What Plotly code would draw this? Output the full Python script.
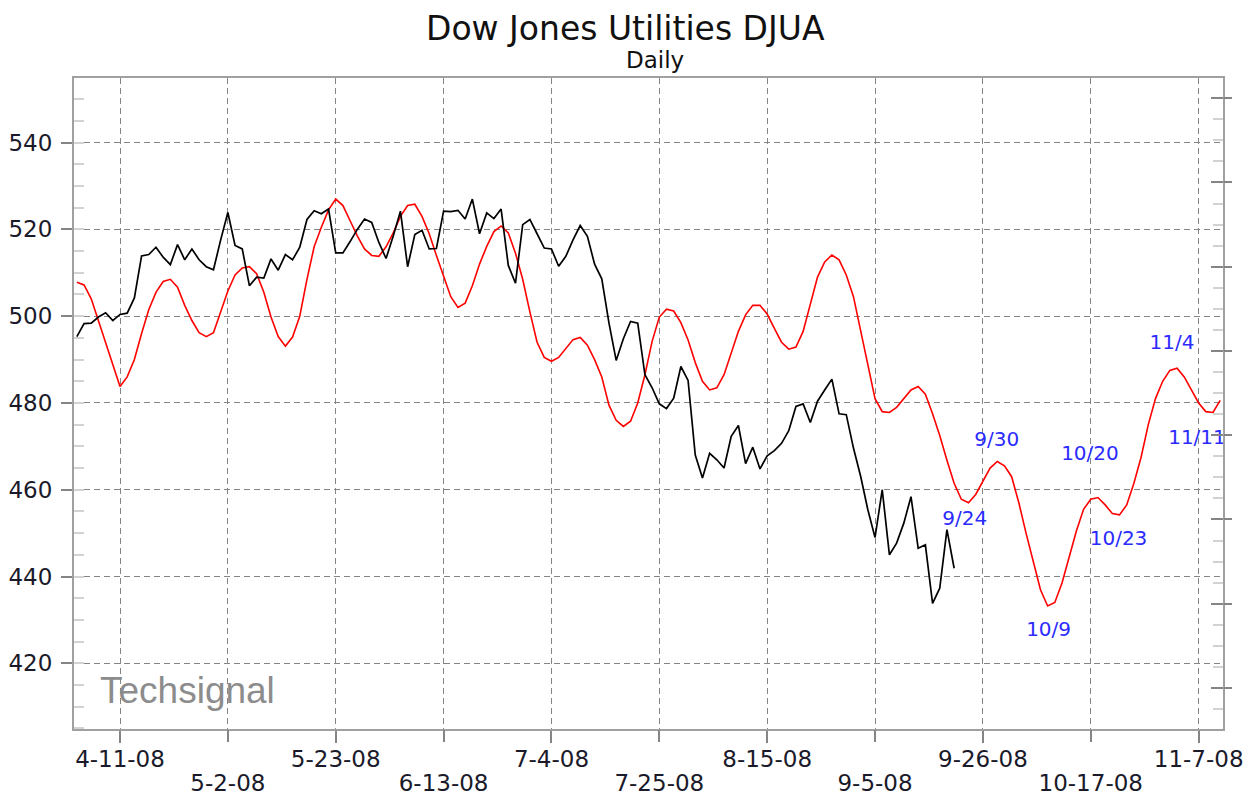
import numpy as np
import pandas as pd
import plotly.graph_objects as go

# ---------------- data ----------------
black_start = "2008-04-03"
black_values = [
    495.3, 498.3, 498.4, 499.8, 500.8, 499.0, 500.4, 500.7, 504.2, 513.9,
    514.2, 515.9, 513.6, 511.9, 516.5, 513.0, 515.5, 513.0, 511.4, 510.7,
    517.6, 523.9, 516.3, 515.5, 507.0, 509.0, 508.8, 513.2, 510.6, 514.2,
    513.0, 515.9, 522.3, 524.3, 523.6, 524.7, 514.6, 514.6, 517.2, 520.0,
    522.4, 521.6, 517.0, 513.3, 518.5, 524.2, 511.4, 518.8, 519.8, 515.5,
    515.6, 524.2, 524.1, 524.4, 522.4, 527.0, 519.0, 523.8, 522.5, 524.7,
    511.7, 507.6, 521.1, 522.3, 519.0, 515.7, 515.5, 511.5, 513.8, 517.6,
    520.9, 518.4, 512.0, 508.6, 498.4, 489.8, 494.8, 498.8, 498.4, 486.5,
    483.5, 479.8, 478.7, 481.1, 488.4, 485.2, 468.0, 462.7, 468.4, 466.9,
    465.0, 472.3, 474.8, 466.0, 469.8, 464.8, 467.8, 469.0, 470.7, 473.6,
    479.2, 479.8, 475.5, 480.4, 483.0, 485.5, 477.5, 477.3, 469.6, 463.1,
    455.4, 449.0, 460.0, 445.0, 447.7, 452.3, 458.4, 446.5, 447.3, 433.8,
    437.3, 450.8, 441.9,
]

red_start = "2008-04-03"
red_values = [
    507.8, 507.2, 504.0, 499.0, 494.0, 488.5, 483.8, 486.0, 490.0, 496.0,
    501.5, 505.5, 508.0, 508.5, 506.7, 502.5, 499.0, 496.2, 495.3, 496.2,
    500.8, 505.8, 509.5, 511.1, 511.4, 509.8, 505.5, 499.8, 495.3, 493.1,
    495.2, 500.0, 508.5, 516.0, 520.5, 524.5, 527.0, 525.5, 522.0, 518.5,
    515.5, 514.0, 513.8, 516.0, 519.2, 523.0, 525.5, 525.8, 523.0, 519.0,
    514.0, 509.2, 504.5, 502.0, 503.0, 507.0, 512.0, 516.1, 519.5, 520.8,
    519.2, 514.5, 508.5, 501.0, 494.0, 490.5, 489.6, 490.5, 492.5, 494.6,
    495.1, 493.3, 490.0, 486.0, 479.5, 476.0, 474.6, 475.8, 480.0, 486.5,
    494.2, 499.8, 501.6, 501.2, 498.5, 494.5, 489.3, 485.0, 483.0, 483.5,
    486.5, 491.5, 496.5, 500.3, 502.5, 502.5, 500.5, 497.2, 494.0, 492.4,
    492.9, 496.5, 502.5, 509.0, 512.5, 514.1, 513.0, 509.5, 504.5, 496.5,
    488.5, 481.0, 478.0, 477.8, 479.0, 481.0, 483.0, 483.8, 482.0, 477.5,
    472.5, 466.8, 461.5, 457.8, 457.0, 458.9, 462.0, 465.0, 466.5, 465.5,
    463.0, 457.0, 450.0, 443.5, 437.0, 433.2, 434.0, 438.5, 444.5, 450.5,
    455.5, 457.8, 458.2, 456.5, 454.5, 454.2, 456.5, 461.5, 467.5, 475.0,
    481.0, 485.0, 487.5, 488.0, 486.0, 483.0, 480.0, 478.0, 477.8, 480.6,
]

tick_dates = ["2008-04-11", "2008-05-02", "2008-05-23", "2008-06-13", "2008-07-04",
              "2008-07-25", "2008-08-15", "2008-09-05", "2008-09-26", "2008-10-17",
              "2008-11-07"]
tick_labels = ["4-11-08", "5-2-08", "5-23-08", "6-13-08", "7-4-08", "7-25-08",
               "8-15-08", "9-5-08", "9-26-08", "10-17-08", "11-7-08"]

y_tick_values = [420, 440, 460, 480, 500, 520, 540]

label_texts = ["9/24", "9/30", "10/9", "10/20", "10/23", "11/4", "11/11"]
label_dates = ["2008-09-24", "2008-09-30", "2008-10-09", "2008-10-20",
               "2008-10-23", "2008-11-04", "2008-11-11"]

# ---------------- styling / layout constants ----------------
BODY = 8                      # default page margin around the plot div
W, H = 1260 - BODY, 798 - BODY
# target plot area in screenshot pixels
P_L, P_R, P_T, P_B = 74, 1223, 78, 729
ML, MR, MT, MB = P_L - BODY, W - (P_R - BODY), P_T - BODY, H - (P_B - BODY)
PLOT_W = P_R - P_L
PLOT_H = P_B - P_T
X_RANGE = ["2008-04-02 14:28", "2008-11-12 09:22"]
Y_RANGE = [404.85, 554.9]
Y2_RANGE = [5.13, 82.4]
PX_PER_WD = 7.191
PX_PER_UNIT = PLOT_H / (Y_RANGE[1] - Y_RANGE[0])

# pixel offsets of the turning-point labels (style)
label_dx = [-3.7, -0.5, 1.0, -8.0, -1.0, -5.0, -16.0]
label_dy = [17, -21, 25, -43, 25, -24, 26]

black_dates = pd.bdate_range(black_start, periods=len(black_values))
red_dates = pd.bdate_range(red_start, periods=len(red_values))
red_series = pd.Series(red_values, index=red_dates)


def shift_weekdays(d, wd):
    whole = int(np.floor(wd))
    frac = wd - whole
    return d + pd.offsets.BDay(whole) + pd.Timedelta(days=frac)


lab_x, lab_y = [], []
for d, dx, dy in zip(label_dates, label_dx, label_dy):
    ts = pd.Timestamp(d)
    lab_x.append(shift_weekdays(ts, dx / PX_PER_WD))
    lab_y.append(red_series[ts] - dy / PX_PER_UNIT)


def px(xs, ys):
    """screenshot pixel -> paper coords of the plot area"""
    return (xs - P_L) / PLOT_W, (P_B - ys) / PLOT_H


GRID = "#858585"
FRAME = "#a0a0a0"
TXT = "#1a1a2a"
FONT = "DejaVu Sans"

fig = go.Figure()
fig.add_trace(go.Scatter(x=red_dates, y=red_values, mode="lines",
                         line=dict(color="#ff0000", width=1.6), hoverinfo="skip"))
fig.add_trace(go.Scatter(x=black_dates, y=black_values, mode="lines",
                         line=dict(color="#000000", width=1.7), hoverinfo="skip"))
fig.add_trace(go.Scatter(x=lab_x, y=lab_y, mode="text", text=label_texts,
                         textposition="middle center", cliponaxis=True,
                         textfont=dict(family=FONT, size=20, color="#2b2bff"),
                         hoverinfo="skip"))
# helper traces so that the extra axes are drawn
fig.add_trace(go.Scatter(x=tick_dates[1::2], y=[None] * len(tick_dates[1::2]),
                         xaxis="x2", yaxis="y", mode="lines", hoverinfo="skip"))
fig.add_trace(go.Scatter(x=[tick_dates[0]], y=[None], xaxis="x", yaxis="y2",
                         mode="lines", hoverinfo="skip"))
fig.add_trace(go.Scatter(x=[tick_dates[0]], y=[None], xaxis="x", yaxis="y3",
                         mode="lines", hoverinfo="skip"))

common_x = dict(type="date", range=X_RANGE, rangebreaks=[dict(bounds=["sat", "mon"])],
                ticks="outside", ticklen=12, tickwidth=2, tickcolor=GRID,
                showgrid=True, gridcolor=GRID, gridwidth=1.4, griddash="6px,4px",
                zeroline=False, automargin=False,
                tickfont=dict(family=FONT, size=23, color=TXT))

tx, ty = px(625, 28)
dx_, dy_ = px(655, 60)
wx, wy = px(98, 690)

fig.update_layout(
    width=W, height=H,
    margin=dict(l=ML, r=MR, t=MT, b=MB, autoexpand=False),
    paper_bgcolor="white", plot_bgcolor="white",
    showlegend=False,
    font=dict(family=FONT, color=TXT),
    xaxis=dict(**common_x, tickvals=tick_dates[0::2], ticktext=tick_labels[0::2],
               showline=True, linecolor=FRAME, linewidth=2, mirror=True,
               ticklabelstandoff=-4),
    xaxis2=dict(**common_x, tickvals=tick_dates[1::2], ticktext=tick_labels[1::2],
                overlaying="x", anchor="y", side="bottom", showline=False,
                ticklabelstandoff=21),
    yaxis=dict(range=Y_RANGE, tickvals=y_tick_values, ticks="outside", ticklen=11,
               tickwidth=2, tickcolor=GRID, showgrid=True, gridcolor=GRID,
               gridwidth=1.4, griddash="6px,4px", zeroline=False, automargin=False,
               showline=True, linecolor=FRAME, linewidth=2, mirror=True,
               tickfont=dict(family=FONT, size=23, color=TXT), ticklabelstandoff=4,
               minor=dict(dtick=5, tick0=0, ticks="inside", ticklen=10,
                          tickcolor="#d2d2d2", tickwidth=1.5, showgrid=False)),
    yaxis2=dict(range=Y2_RANGE, overlaying="y", side="right", anchor="x",
                dtick=10, tick0=0, ticks="inside", ticklen=12, tickwidth=2,
                tickcolor=GRID, showticklabels=False, showgrid=False, zeroline=False,
                automargin=False,
                minor=dict(dtick=2.5, tick0=0, ticks="inside", ticklen=10,
                           tickcolor="#d2d2d2", tickwidth=1.5, showgrid=False)),
    yaxis3=dict(range=Y2_RANGE, overlaying="y", side="right", anchor="x",
                dtick=10, tick0=0, ticks="outside", ticklen=8, tickwidth=2,
                tickcolor=GRID, showticklabels=False, showgrid=False, zeroline=False,
                automargin=False),
    annotations=[
        dict(text="Dow Jones Utilities DJUA", xref="paper", yref="paper",
             x=tx, y=ty, xanchor="center", yanchor="middle", showarrow=False,
             borderpad=0, font=dict(family=FONT, size=33, color="#111111")),
        dict(text="Daily", xref="paper", yref="paper",
             x=dx_, y=dy_, xanchor="center", yanchor="middle", showarrow=False,
             borderpad=0, font=dict(family=FONT, size=23, color="#111111")),
        dict(text="Techsignal", xref="paper", yref="paper",
             x=wx, y=wy, xanchor="left", yanchor="middle", showarrow=False,
             font=dict(family="Liberation Sans", size=37, color="#8c8c8c")),
    ],
)

fig.write_html("out.html")
